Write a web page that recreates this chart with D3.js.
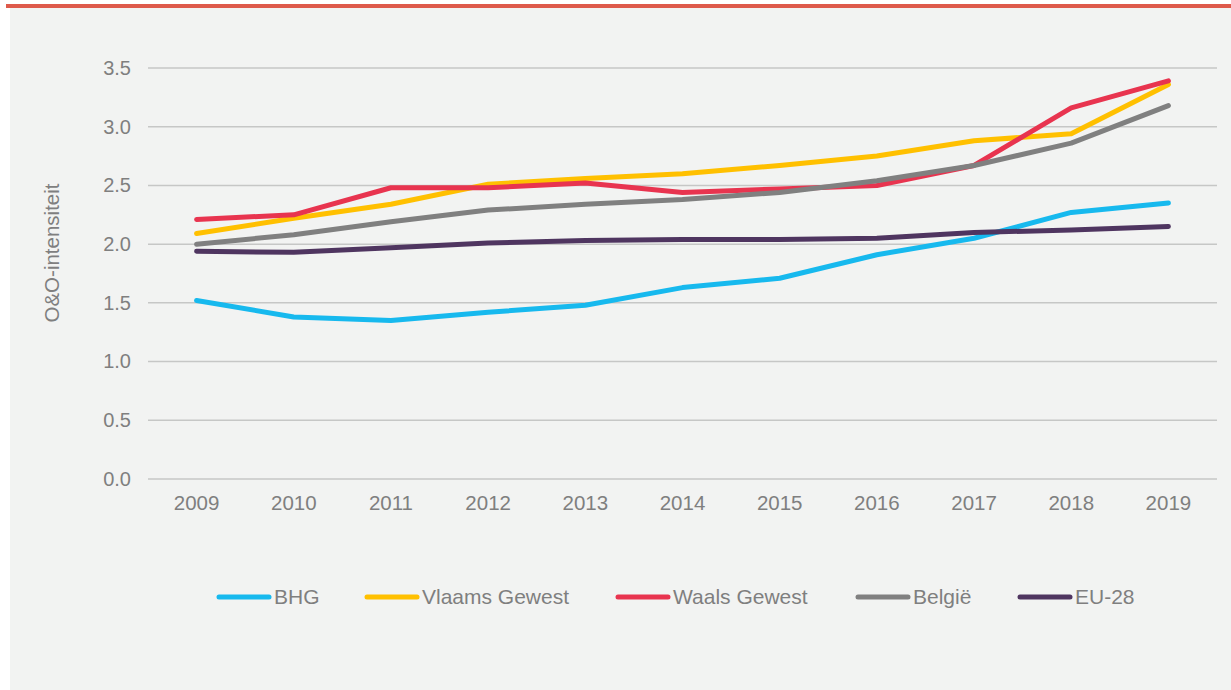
<!DOCTYPE html>
<html>
<head>
<meta charset="utf-8">
<script src="https://cdn.jsdelivr.net/npm/d3@7"></script>
<style>
  body { margin: 0; background: #fff; }
  text { font-family: "Liberation Sans", Arial, sans-serif; fill: #7f7f7f; }
</style>
</head>
<body>
<div id="chart"></div>
<script>
/* -----------------------
data
------------------------- */

var years = ['2009','2010','2011','2012','2013','2014','2015','2016','2017','2018','2019'];
var yTicks = [0, 0.5, 1.0, 1.5, 2.0, 2.5, 3.0, 3.5];

var bhg     = [1.52, 1.38, 1.35, 1.42, 1.48, 1.63, 1.71, 1.91, 2.05, 2.27, 2.35];
var vlaams  = [2.09, 2.22, 2.34, 2.51, 2.56, 2.60, 2.67, 2.75, 2.88, 2.94, 3.36];
var waals   = [2.21, 2.25, 2.48, 2.48, 2.52, 2.44, 2.47, 2.50, 2.67, 3.16, 3.39];
var belgie  = [2.00, 2.08, 2.19, 2.29, 2.34, 2.38, 2.44, 2.54, 2.67, 2.86, 3.18];
var eu28    = [1.94, 1.93, 1.97, 2.01, 2.03, 2.04, 2.04, 2.05, 2.10, 2.12, 2.15];

var seriesNames = ['BHG', 'Vlaams Gewest', 'Waals Gewest', 'België', 'EU-28'];
var seriesColors = ['#17b9ee', '#ffc000', '#e8344f', '#808080', '#4f3560'];
var seriesValues = [bhg, vlaams, waals, belgie, eu28];

var yTitle = 'O&O-intensiteit';

/* -----------------------
set plot
------------------------- */

var width = 1231, height = 690;

var svg = d3.select('#chart').append('svg')
	.attr('width', width)
	.attr('height', height);

// panel + red top bar
svg.append('rect').attr('x', 10).attr('y', 8).attr('width', width - 10).attr('height', height - 8).attr('fill', '#f2f3f2');
svg.append('rect').attr('x', 6).attr('y', 4).attr('width', width - 6).attr('height', 4).attr('fill', '#de5a4b');

var x = d3.scaleBand().domain(years).range([148, 1217]);
var y = d3.scaleLinear().domain([0, 3.5]).range([479, 68]);

// gridlines
svg.append('g')
	.selectAll('line')
	.data(yTicks)
	.enter()
	.append('line')
	.attr('x1', 148)
	.attr('x2', 1217)
	.attr('y1', function (d) { return y(d); })
	.attr('y2', function (d) { return y(d); })
	.attr('stroke', '#c6c7c6')
	.attr('stroke-width', 1.5);

// y axis
var yAxis = svg.append('g')
	.attr('transform', 'translate(148,0)')
	.call(d3.axisLeft(y).tickValues(yTicks).tickFormat(d3.format('.1f')).tickSize(0).tickPadding(17));
yAxis.select('.domain').remove();
yAxis.selectAll('text').style('font-size', '20px').attr('fill', '#7f7f7f');

// x axis
var xAxis = svg.append('g')
	.attr('transform', 'translate(0,479)')
	.call(d3.axisBottom(x).tickSize(0).tickPadding(16));
xAxis.select('.domain').remove();
xAxis.selectAll('text').style('font-size', '20.5px').attr('fill', '#7f7f7f');

// y title
svg.append('text')
	.attr('transform', 'translate(59,253) rotate(-90)')
	.attr('text-anchor', 'middle')
	.style('font-size', '20.5px')
	.text(yTitle);

/* --- lines --- */

var line = d3.line()
	.x(function (d, i) { return x(years[i]) + x.bandwidth() / 2; })
	.y(function (d) { return y(d); });

svg.append('g')
	.selectAll('path')
	.data(seriesValues)
	.enter()
	.append('path')
	.attr('d', line)
	.attr('fill', 'none')
	.attr('stroke', function (d, i) { return seriesColors[i]; })
	.attr('stroke-width', 5)
	.attr('stroke-linecap', 'round')
	.attr('stroke-linejoin', 'round');

/* --- legend --- */

var legendX = [217, 365, 616, 856, 1018];

var legend = svg.append('g')
	.selectAll('g')
	.data(seriesNames)
	.enter()
	.append('g')
	.attr('transform', function (d, i) { return 'translate(' + legendX[i] + ',597)'; });

legend.append('line')
	.attr('x1', 2).attr('x2', 52)
	.attr('stroke', function (d, i) { return seriesColors[i]; })
	.attr('stroke-width', 5)
	.attr('stroke-linecap', 'round');

legend.append('text')
	.attr('x', 57)
	.attr('dy', '0.35em')
	.style('font-size', '21px')
	.text(function (d) { return d; });
</script>
</body>
</html>
